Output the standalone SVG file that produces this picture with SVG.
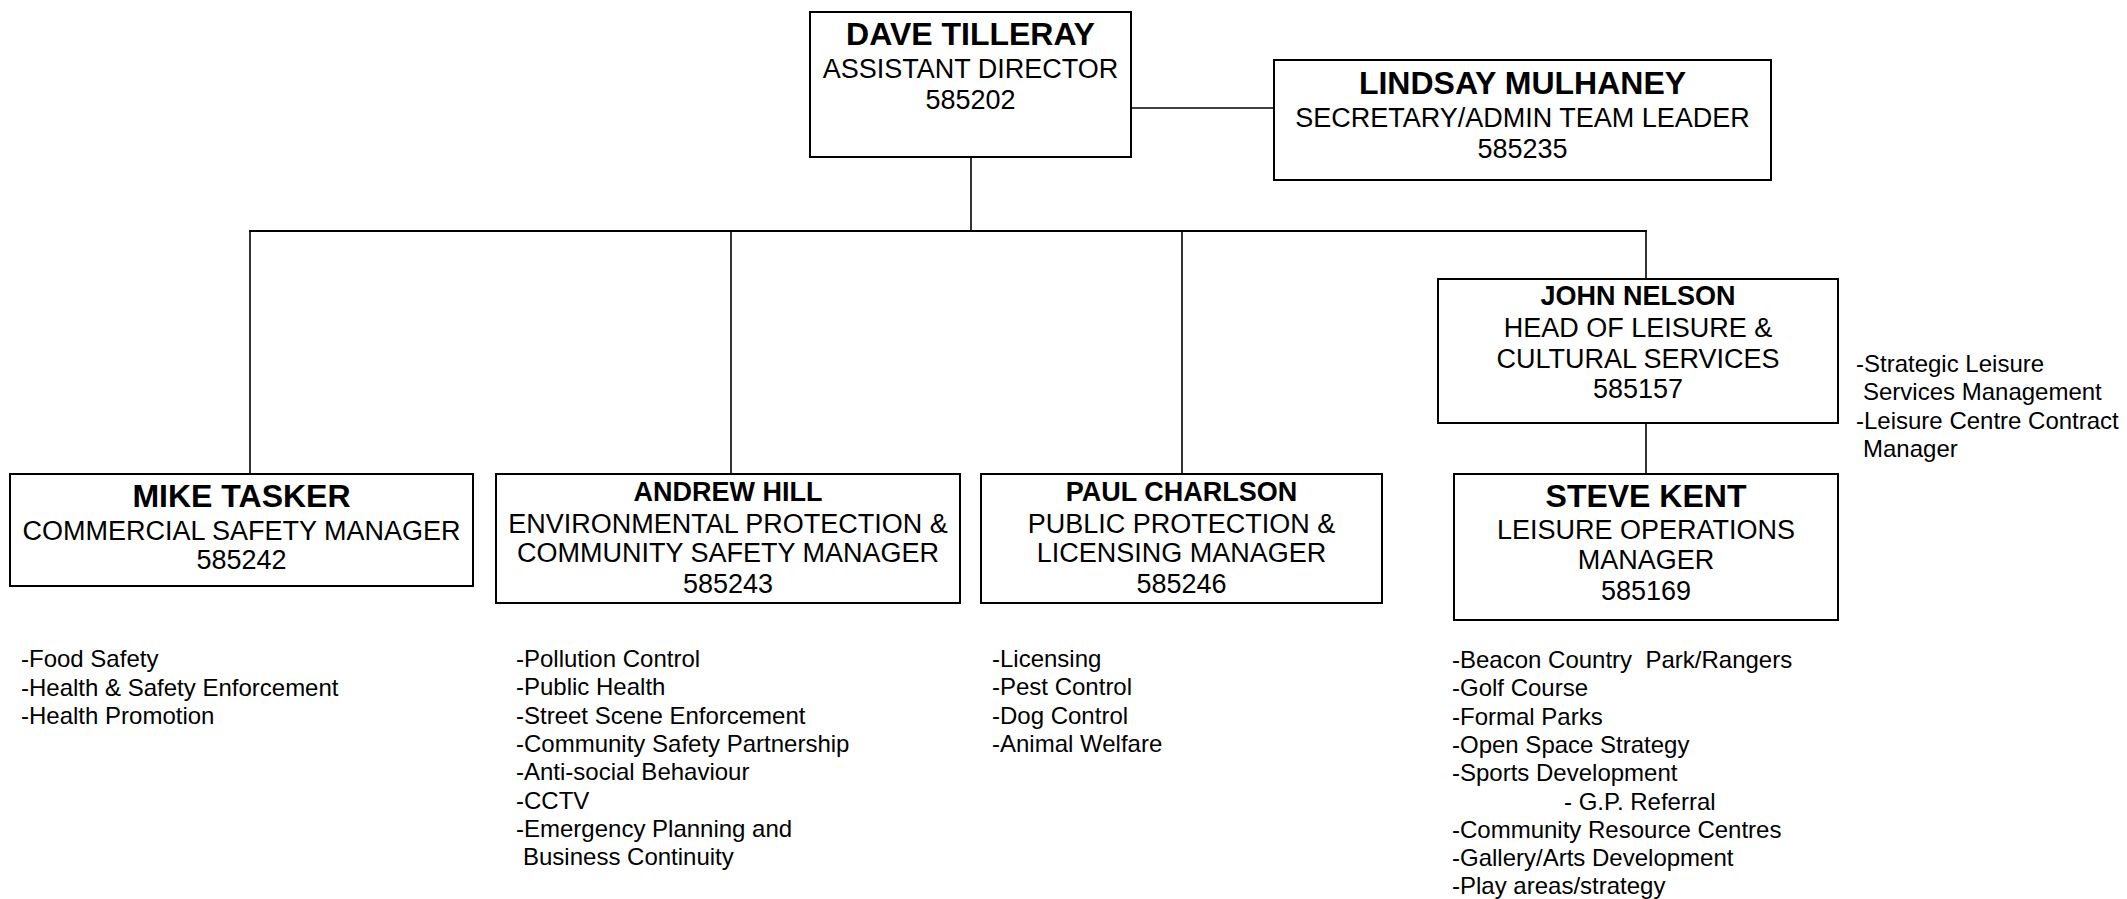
<svg xmlns="http://www.w3.org/2000/svg" width="2127" height="899" viewBox="0 0 2127 899">
<style>
text{font-family:"Liberation Sans",Arial,sans-serif;fill:#000}
.box{fill:#fff;stroke:#000;stroke-width:2}
.big{font-size:32px;font-weight:bold;text-anchor:middle}
.nm{font-size:27px;font-weight:bold;text-anchor:middle}
.sub{font-size:27px;text-anchor:middle}
.lst{font-size:24px;white-space:pre}
.con line{stroke:#000;stroke-width:1.6}
</style>
<rect width="2127" height="899" fill="#fff"/>
<g class="con" id="connectors">
<line x1="1131" y1="108" x2="1274" y2="108"/>
<line x1="971" y1="157" x2="971" y2="231"/>
<line x1="249" y1="231" x2="1647" y2="231" style="stroke-width:2"/>
<line x1="250" y1="231" x2="250" y2="474"/>
<line x1="731" y1="231" x2="731" y2="474"/>
<line x1="1182" y1="231" x2="1182" y2="474"/>
<line x1="1646" y1="231" x2="1646" y2="279"/>
<line x1="1646" y1="423" x2="1646" y2="474"/>
</g>
<g id="dave">
<rect class="box" x="810" y="12" width="321" height="145"/>
<text class="big" x="970.5" y="45">DAVE TILLERAY</text>
<text class="sub" x="970.5" y="78">ASSISTANT DIRECTOR</text>
<text class="sub" x="970.5" y="109">585202</text>
</g>
<g id="lindsay">
<rect class="box" x="1274" y="60" width="497" height="120"/>
<text class="big" x="1522.5" y="94">LINDSAY MULHANEY</text>
<text class="sub" x="1522.5" y="127">SECRETARY/ADMIN TEAM LEADER</text>
<text class="sub" x="1522.5" y="158">585235</text>
</g>
<g id="mike">
<rect class="box" x="10" y="474" width="463" height="112"/>
<text class="big" x="241.5" y="507">MIKE TASKER</text>
<text class="sub" x="241.5" y="540">COMMERCIAL SAFETY MANAGER</text>
<text class="sub" x="241.5" y="569">585242</text>
<text class="lst" x="21" y="667">-Food Safety</text>
<text class="lst" x="21" y="695.5">-Health &amp; Safety Enforcement</text>
<text class="lst" x="21" y="724">-Health Promotion</text>
</g>
<g id="andrew">
<rect class="box" x="496" y="474" width="464" height="129"/>
<text class="nm" x="728" y="501">ANDREW HILL</text>
<text class="sub" x="728" y="533">ENVIRONMENTAL PROTECTION &amp;</text>
<text class="sub" x="728" y="562">COMMUNITY SAFETY MANAGER</text>
<text class="sub" x="728" y="593">585243</text>
<text class="lst" x="516" y="667">-Pollution Control</text>
<text class="lst" x="516" y="695.3">-Public Health</text>
<text class="lst" x="516" y="723.6">-Street Scene Enforcement</text>
<text class="lst" x="516" y="751.9">-Community Safety Partnership</text>
<text class="lst" x="516" y="780.2">-Anti-social Behaviour</text>
<text class="lst" x="516" y="808.5">-CCTV</text>
<text class="lst" x="516" y="836.8">-Emergency Planning and</text>
<text class="lst" x="523" y="865.1">Business Continuity</text>
</g>
<g id="paul">
<rect class="box" x="981" y="474" width="401" height="129"/>
<text class="nm" x="1181.5" y="501">PAUL CHARLSON</text>
<text class="sub" x="1181.5" y="533">PUBLIC PROTECTION &amp;</text>
<text class="sub" x="1181.5" y="562">LICENSING MANAGER</text>
<text class="sub" x="1181.5" y="593">585246</text>
<text class="lst" x="992" y="667">-Licensing</text>
<text class="lst" x="992" y="695.3">-Pest Control</text>
<text class="lst" x="992" y="723.6">-Dog Control</text>
<text class="lst" x="992" y="751.9">-Animal Welfare</text>
</g>
<g id="john">
<rect class="box" x="1438" y="279" width="400" height="144"/>
<text class="nm" x="1638" y="305">JOHN NELSON</text>
<text class="sub" x="1638" y="337">HEAD OF LEISURE &amp;</text>
<text class="sub" x="1638" y="368">CULTURAL SERVICES</text>
<text class="sub" x="1638" y="398">585157</text>
<text class="lst" x="1856" y="372">-Strategic Leisure</text>
<text class="lst" x="1863" y="400.3">Services Management</text>
<text class="lst" x="1856" y="428.6">-Leisure Centre Contract</text>
<text class="lst" x="1863" y="456.9">Manager</text>
</g>
<g id="steve">
<rect class="box" x="1454" y="474" width="384" height="146"/>
<text class="big" x="1646" y="507">STEVE KENT</text>
<text class="sub" x="1646" y="539">LEISURE OPERATIONS</text>
<text class="sub" x="1646" y="569">MANAGER</text>
<text class="sub" x="1646" y="600">585169</text>
<text class="lst" x="1452" y="668" xml:space="preserve">-Beacon Country  Park/Rangers</text>
<text class="lst" x="1452" y="696.3">-Golf Course</text>
<text class="lst" x="1452" y="724.6">-Formal Parks</text>
<text class="lst" x="1452" y="752.9">-Open Space Strategy</text>
<text class="lst" x="1452" y="781.2">-Sports Development</text>
<text class="lst" x="1564" y="809.5">- G.P. Referral</text>
<text class="lst" x="1452" y="837.8">-Community Resource Centres</text>
<text class="lst" x="1452" y="866.1">-Gallery/Arts Development</text>
<text class="lst" x="1452" y="894.4">-Play areas/strategy</text>
</g>
</svg>
